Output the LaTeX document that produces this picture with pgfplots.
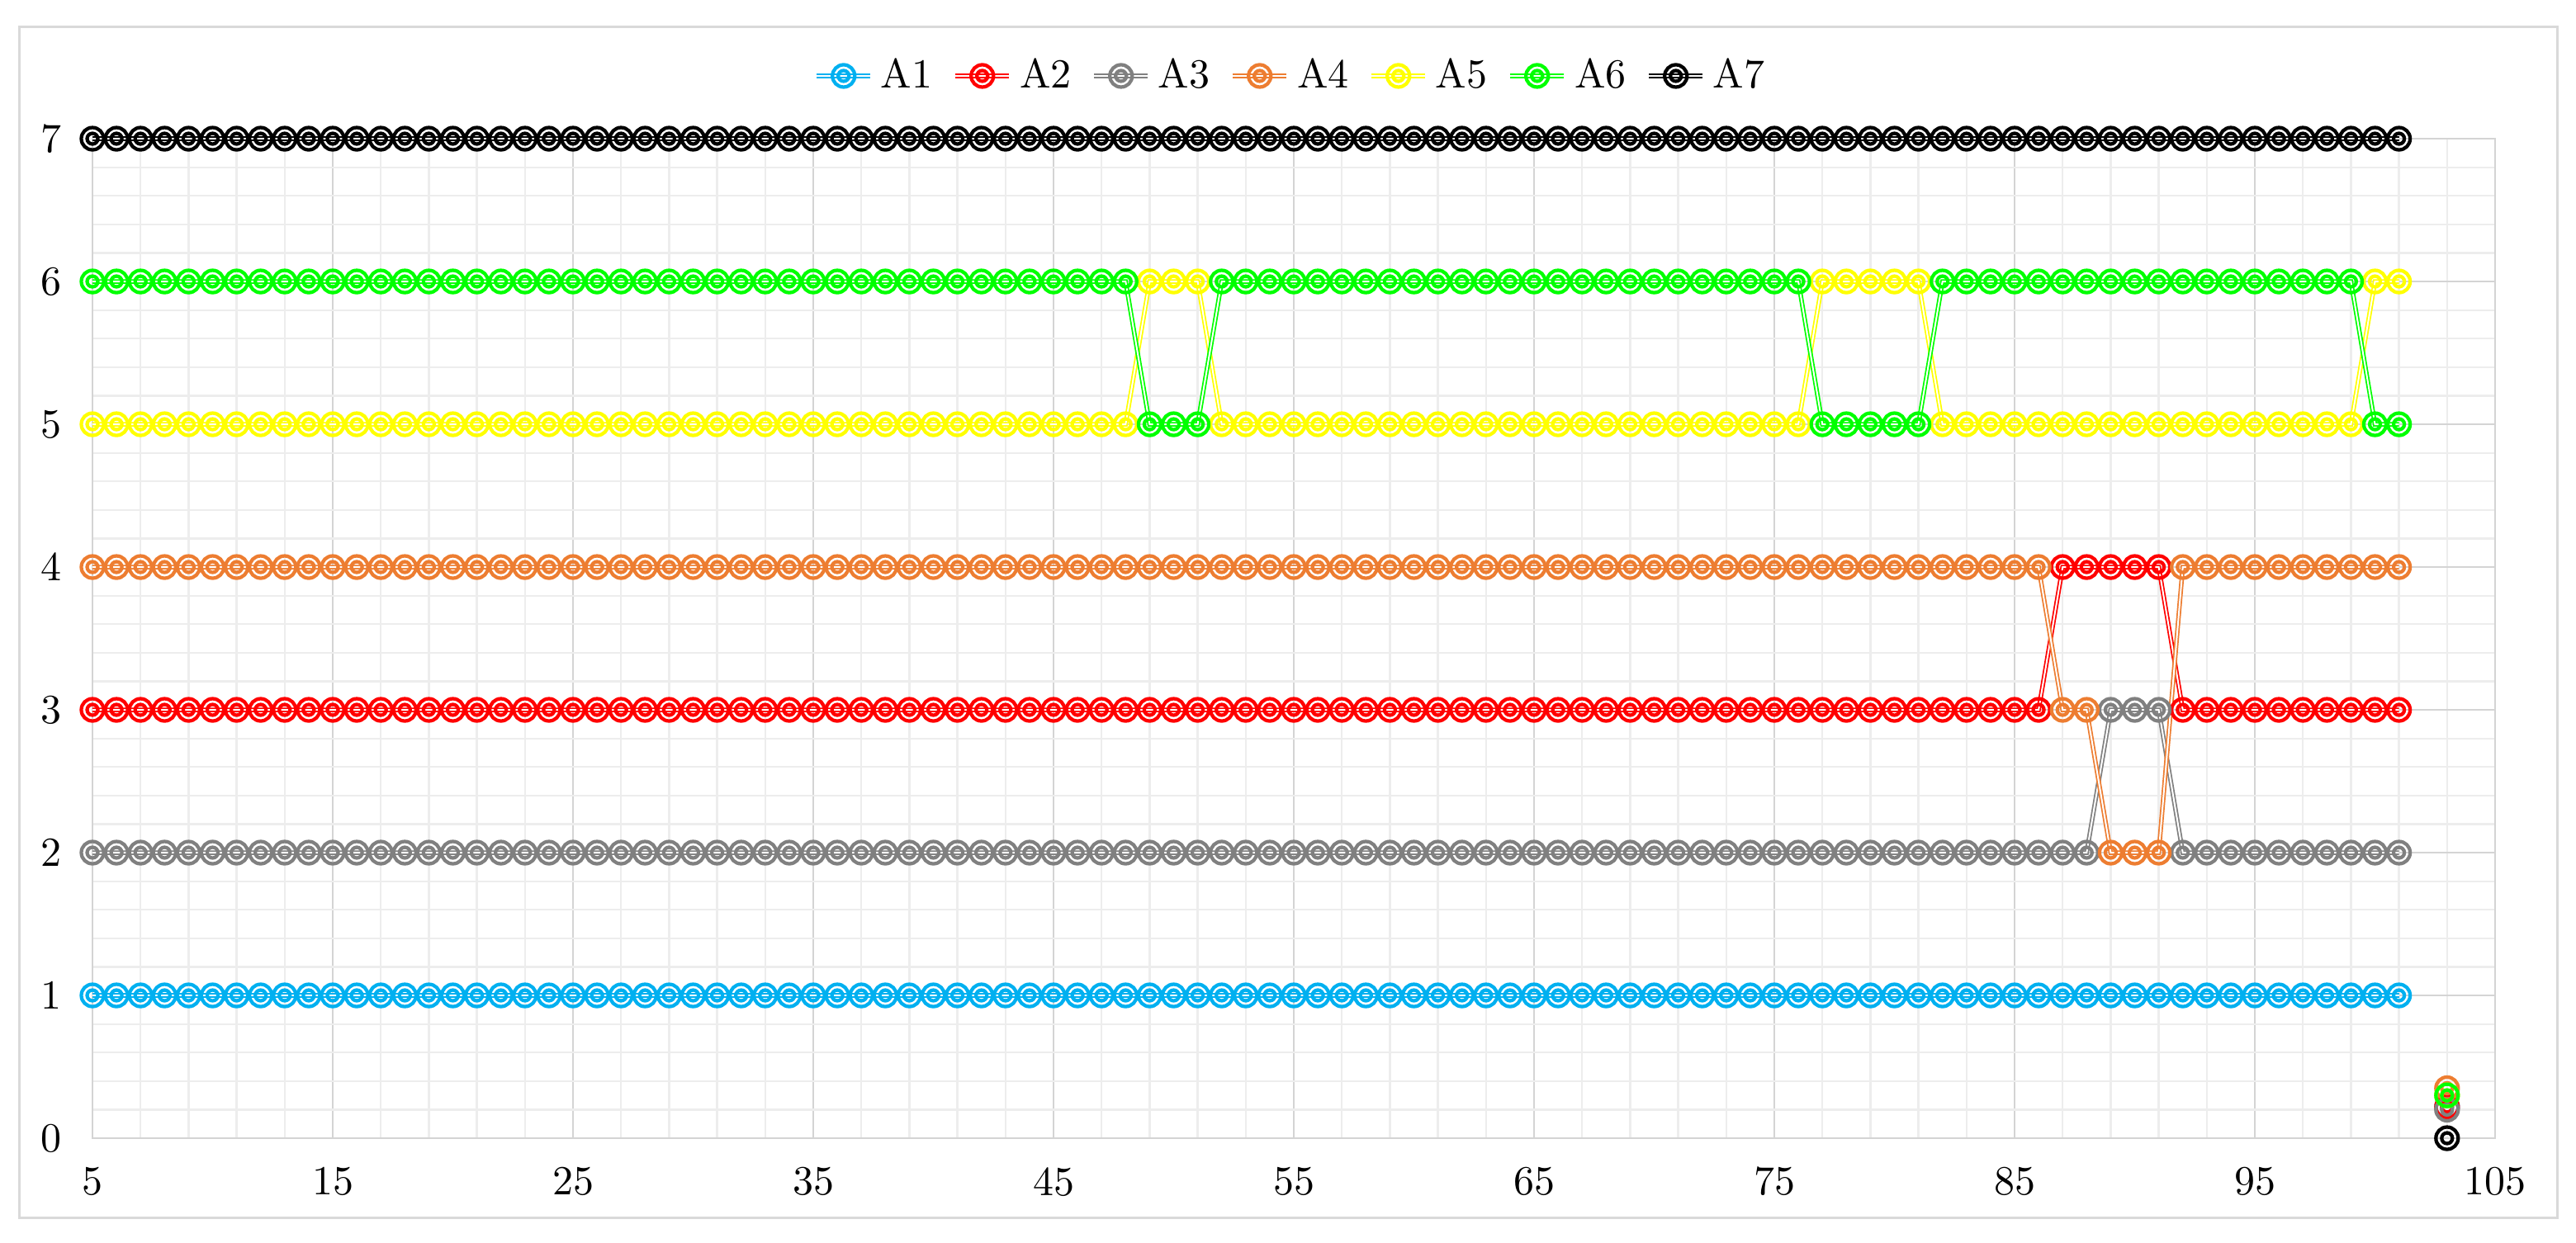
\documentclass[border=0pt]{standalone}
\usepackage{fontspec}
\usepackage{pgfplots}
\usepackage{pgfplotstable}
\pgfplotsset{compat=1.18}
\definecolor{cA1}{HTML}{00B0F0}
\definecolor{cA2}{HTML}{FF0000}
\definecolor{cA3}{HTML}{808080}
\definecolor{cA4}{HTML}{ED7D31}
\definecolor{cA5}{HTML}{FFFF00}
\definecolor{cA6}{HTML}{00FF00}
\definecolor{cA7}{HTML}{000000}
\definecolor{gridmaj}{HTML}{D4D4D4}
\definecolor{gridmin}{HTML}{EDEDED}
\definecolor{framec}{HTML}{D9D9D9}
\pgfdeclareplotmark{dring}{%
  \pgfpathcircle{\pgfpointorigin}{2.7pt}\pgfusepathqstroke
  \pgfpathcircle{\pgfpointorigin}{1.3pt}\pgfusepathqstroke}

\pgfplotstableread{
x A1 A2 A3 A4 A5 A6 A7
5 1 3 2 4 5 6 7
6 1 3 2 4 5 6 7
7 1 3 2 4 5 6 7
8 1 3 2 4 5 6 7
9 1 3 2 4 5 6 7
10 1 3 2 4 5 6 7
11 1 3 2 4 5 6 7
12 1 3 2 4 5 6 7
13 1 3 2 4 5 6 7
14 1 3 2 4 5 6 7
15 1 3 2 4 5 6 7
16 1 3 2 4 5 6 7
17 1 3 2 4 5 6 7
18 1 3 2 4 5 6 7
19 1 3 2 4 5 6 7
20 1 3 2 4 5 6 7
21 1 3 2 4 5 6 7
22 1 3 2 4 5 6 7
23 1 3 2 4 5 6 7
24 1 3 2 4 5 6 7
25 1 3 2 4 5 6 7
26 1 3 2 4 5 6 7
27 1 3 2 4 5 6 7
28 1 3 2 4 5 6 7
29 1 3 2 4 5 6 7
30 1 3 2 4 5 6 7
31 1 3 2 4 5 6 7
32 1 3 2 4 5 6 7
33 1 3 2 4 5 6 7
34 1 3 2 4 5 6 7
35 1 3 2 4 5 6 7
36 1 3 2 4 5 6 7
37 1 3 2 4 5 6 7
38 1 3 2 4 5 6 7
39 1 3 2 4 5 6 7
40 1 3 2 4 5 6 7
41 1 3 2 4 5 6 7
42 1 3 2 4 5 6 7
43 1 3 2 4 5 6 7
44 1 3 2 4 5 6 7
45 1 3 2 4 5 6 7
46 1 3 2 4 5 6 7
47 1 3 2 4 5 6 7
48 1 3 2 4 5 6 7
49 1 3 2 4 6 5 7
50 1 3 2 4 6 5 7
51 1 3 2 4 6 5 7
52 1 3 2 4 5 6 7
53 1 3 2 4 5 6 7
54 1 3 2 4 5 6 7
55 1 3 2 4 5 6 7
56 1 3 2 4 5 6 7
57 1 3 2 4 5 6 7
58 1 3 2 4 5 6 7
59 1 3 2 4 5 6 7
60 1 3 2 4 5 6 7
61 1 3 2 4 5 6 7
62 1 3 2 4 5 6 7
63 1 3 2 4 5 6 7
64 1 3 2 4 5 6 7
65 1 3 2 4 5 6 7
66 1 3 2 4 5 6 7
67 1 3 2 4 5 6 7
68 1 3 2 4 5 6 7
69 1 3 2 4 5 6 7
70 1 3 2 4 5 6 7
71 1 3 2 4 5 6 7
72 1 3 2 4 5 6 7
73 1 3 2 4 5 6 7
74 1 3 2 4 5 6 7
75 1 3 2 4 5 6 7
76 1 3 2 4 5 6 7
77 1 3 2 4 6 5 7
78 1 3 2 4 6 5 7
79 1 3 2 4 6 5 7
80 1 3 2 4 6 5 7
81 1 3 2 4 6 5 7
82 1 3 2 4 5 6 7
83 1 3 2 4 5 6 7
84 1 3 2 4 5 6 7
85 1 3 2 4 5 6 7
86 1 3 2 4 5 6 7
87 1 4 2 3 5 6 7
88 1 4 2 3 5 6 7
89 1 4 3 2 5 6 7
90 1 4 3 2 5 6 7
91 1 4 3 2 5 6 7
92 1 3 2 4 5 6 7
93 1 3 2 4 5 6 7
94 1 3 2 4 5 6 7
95 1 3 2 4 5 6 7
96 1 3 2 4 5 6 7
97 1 3 2 4 5 6 7
98 1 3 2 4 5 6 7
99 1 3 2 4 5 6 7
100 1 3 2 4 6 5 7
101 1 3 2 4 6 5 7
102 nan nan nan nan nan nan nan
103 0.22 0.22 0.2 0.35 0.3 0.3 0
}\data

\begin{document}
\begin{tikzpicture}
\begin{axis}[
  at={(0,0)}, anchor=south west, scale only axis,
  width=582pt, height=242.2pt,
  xmin=5, xmax=105, ymin=0, ymax=7,
  xtick={5,15,...,105}, ytick={0,1,...,7},
  minor x tick num=4, minor y tick num=4,
  grid=both,
  major grid style={draw=gridmaj, line width=0.5pt},
  minor grid style={draw=gridmin, line width=0.45pt},
  axis line style={draw=gridmaj, line width=0.5pt},
  major tick length=0pt, minor tick length=0pt,
  /pgf/number format/assume math mode=true,
  tick label style={font=\fontsize{10}{12}\selectfont},
  yticklabel style={xshift=-4pt},
  xticklabel style={yshift=-3.5pt},
  clip=false,
  unbounded coords=jump,
  legend columns=7,
  legend style={at={(0.5,1.0628)}, anchor=center, draw=none, fill=none,
    font=\fontsize{10}{12}\selectfont,
    /tikz/every even column/.append style={column sep=3pt}},
  legend image code/.code={\draw[mark repeat=2,mark phase=2,#1] plot coordinates {(0pt,0pt) (6.5pt,0pt) (13pt,0pt)};},
  every axis plot/.append style={line width=0.35pt, double distance=0.4pt, mark=dring, mark options={solid, line width=0.85pt}},
]
\addplot[color=cA1, double=white] table[x=x,y=A1]{\data};
\addlegendentry{A1}
\addplot[color=cA2, double=white] table[x=x,y=A2]{\data};
\addlegendentry{A2}
\addplot[color=cA3, double=white] table[x=x,y=A3]{\data};
\addlegendentry{A3}
\addplot[color=cA4, double=white] table[x=x,y=A4]{\data};
\addlegendentry{A4}
\addplot[color=cA5, double=white] table[x=x,y=A5]{\data};
\addlegendentry{A5}
\addplot[color=cA6, double=white] table[x=x,y=A6]{\data};
\addlegendentry{A6}
\addplot[color=cA7, double=white] table[x=x,y=A7]{\data};
\addlegendentry{A7}
\end{axis}
\draw[framec, line width=0.6pt] (-17.6pt,-19.2pt) rectangle (597pt,269.4pt);
\useasboundingbox (-22.4pt,-25.2pt) rectangle (601.6pt,275.8pt);
\end{tikzpicture}
\end{document}
